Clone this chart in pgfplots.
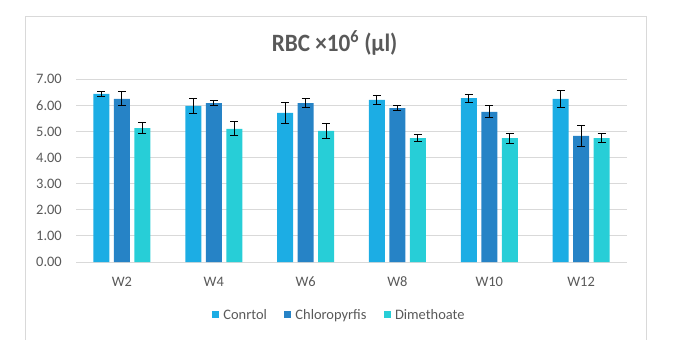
\documentclass[border=0pt]{standalone}
\usepackage{fontspec}
\setmainfont{Carlito}
\newfontfamily\titlefont[FakeStretch=0.93]{Carlito}
\usepackage{pgfplots}
\pgfplotsset{compat=1.18}
\usepackage{pgfplotstable}
\definecolor{cA}{HTML}{1CADE4}
\definecolor{cB}{HTML}{2683C6}
\definecolor{cC}{HTML}{27CED7}
\definecolor{txt}{HTML}{595959}
\definecolor{grd}{HTML}{D9D9D9}

\pgfplotstableread{
x y e
0 6.44 0.10
1 5.98 0.29
2 5.71 0.42
3 6.21 0.19
4 6.28 0.15
5 6.25 0.33
}\ctrl
\pgfplotstableread{
x y e
0 6.25 0.27
1 6.09 0.11
2 6.09 0.17
3 5.90 0.11
4 5.75 0.23
5 4.83 0.42
}\chlo
\pgfplotstableread{
x y e
0 5.13 0.20
1 5.10 0.27
2 5.02 0.29
3 4.75 0.15
4 4.75 0.19
5 4.75 0.17
}\dime

\begin{document}
\begin{tikzpicture}[x=1bp,y=1bp]
\path[use as bounding box] (0,0) rectangle (691,361);
\draw[grd, line width=0.9bp] (25.5,21.5) -- (25.5,345) -- (646.3,345) -- (646.3,21.5);
\node[anchor=base, inner sep=0pt, font=\titlefont\bfseries\fontsize{25}{30}\selectfont, text=txt] at (334.6,309.3) {RBC ×10\textsuperscript{6} (µl)};
\begin{axis}[
  at={(76bp,99bp)}, anchor=south west, scale only axis,
  width=551bp, height=182.7bp,
  xmin=-0.5, xmax=5.5, ymin=0, ymax=7,
  ytick={0,1,...,7}, xtick={0,...,5},
  xticklabels={W2,W4,W6,W8,W10,W12},
  ymajorgrids, grid style={grd, line width=0.9bp},
  axis line style={draw=none}, major tick length=0pt,
  scaled y ticks=false,
  /pgf/number format/.cd, fixed, fixed zerofill, precision=2, assume math mode=true,
  /pgfplots/.cd,
  ticklabel style={font=\fontsize{14.5}{17}\selectfont, text=txt},
  yticklabel style={anchor=east, inner sep=0pt, xshift=-14bp},
  xticklabel style={anchor=base, inner sep=0pt, yshift=-24bp},
  ybar=4.5bp, bar width=16bp,
  legend columns=-1,
  legend style={at={(0.4759,-0.290)}, anchor=center, draw=none, fill=none,
    font=\fontsize{14.5}{17}\selectfont, text=txt,
    nodes={inner sep=0pt},
    /tikz/every odd column/.append style={column sep=4.5bp},
    /tikz/every even column/.append style={column sep=17bp}},
]
\addplot[fill=cA, draw=none,
  legend image code/.code={\fill[cA] (0bp,-3.5bp) rectangle (7bp,3.5bp);},
  error bars/.cd, y dir=both, y explicit, error mark=|,
  error bar style={black, line width=0.9bp},
  error mark options={black, mark size=4bp, line width=0.9bp}]
  table[x=x, y=y, y error=e]{\ctrl};
\addplot[fill=cB, draw=none,
  legend image code/.code={\fill[cB] (0bp,-3.5bp) rectangle (7bp,3.5bp);},
  error bars/.cd, y dir=both, y explicit, error mark=|,
  error bar style={black, line width=0.9bp},
  error mark options={black, mark size=4bp, line width=0.9bp}]
  table[x=x, y=y, y error=e]{\chlo};
\addplot[fill=cC, draw=none,
  legend image code/.code={\fill[cC] (0bp,-3.5bp) rectangle (7bp,3.5bp);},
  error bars/.cd, y dir=both, y explicit, error mark=|,
  error bar style={black, line width=0.9bp},
  error mark options={black, mark size=4bp, line width=0.9bp}]
  table[x=x, y=y, y error=e]{\dime};
\legend{Conrtol, Chloropyrfis, Dimethoate}
\end{axis}
\end{tikzpicture}
\end{document}
